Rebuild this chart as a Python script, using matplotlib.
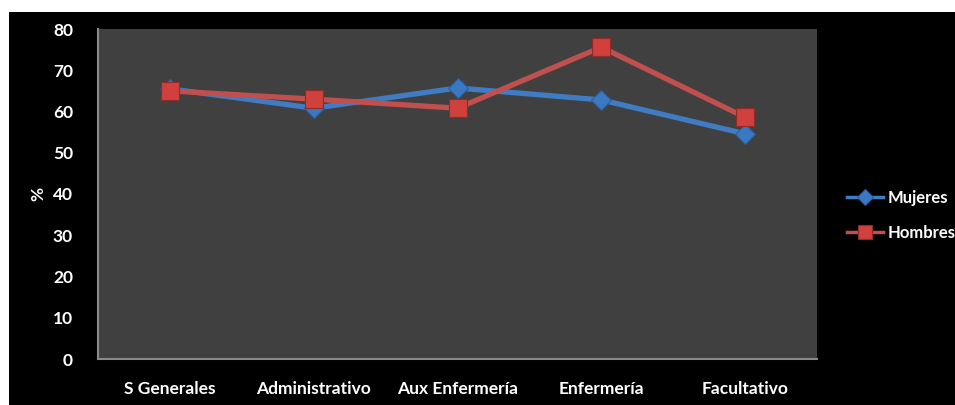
import matplotlib
matplotlib.use("Agg")
import matplotlib.pyplot as plt
from matplotlib.patches import Rectangle
from matplotlib.font_manager import FontProperties

categories = ["S Generales", "Administrativo", "Aux Enfermería", "Enfermería", "Facultativo"]
mujeres = [65.5, 60.8, 65.7, 62.8, 54.6]
hombres = [65.0, 63.0, 60.8, 75.6, 58.6]
y_ticks = [0, 10, 20, 30, 40, 50, 60, 70, 80]

W, H = 955, 405
fig = plt.figure(figsize=(W / 100, H / 100), dpi=100, facecolor="white")
# black chart frame below the thin white top strip
fig.patches.append(Rectangle((9 / W, 0), 1 - 9 / W, 1 - 12 / H,
                             transform=fig.transFigure, facecolor="black",
                             edgecolor="none", zorder=-10))

ax = fig.add_axes([98 / W, 1 - 359 / H, (817 - 98) / W, (359 - 29) / H])
ax.set_zorder(1)
ax.set_facecolor("#404040")

blue = "#3f7cc4"
red = "#c0504d"
x = list(range(len(categories)))
ax.plot(x, mujeres, color=blue, lw=3.8, marker="D", ms=10.5,
        markerfacecolor="#3a78c2", markeredgecolor="#2d5f9c", mew=0.8,
        label="Mujeres", zorder=3)
ax.plot(x, hombres, color=red, lw=3.8, marker="s", ms=13,
        markerfacecolor="#d0403c", markeredgecolor="#8f2b29", mew=0.8,
        label="Hombres", zorder=4)

ax.set_xlim(-0.5, len(categories) - 0.5)
ax.set_ylim(0, 80)
ax.set_yticks(y_ticks)
ax.set_xticks(x)
ax.set_xticklabels(categories)

FS = 12.5
font = dict(family=["Lato", "DejaVu Sans"], weight="bold", size=FS)
for lab in ax.get_xticklabels() + ax.get_yticklabels():
    lab.set_fontproperties(FontProperties(**font))
    lab.set_color("white")
ax.tick_params(axis="both", length=0)
ax.tick_params(axis="y", pad=18)
ax.tick_params(axis="x", pad=16)

for side in ("top", "right"):
    ax.spines[side].set_visible(False)
for side in ("left", "bottom"):
    ax.spines[side].set_color("#8a8a8a")
    ax.spines[side].set_linewidth(1.5)

ax.set_ylabel("%", color="white", fontfamily=["Lato", "DejaVu Sans"],
              fontweight="bold", fontsize=FS)
ax.yaxis.set_label_coords((46 - 98) / 719, 0.5)

leg = fig.legend(loc="upper left", bbox_to_anchor=(840 / W, 1 - 183 / H),
                 frameon=False, handlelength=2.2, handletextpad=0.25,
                 labelspacing=1.15, borderaxespad=0, markerscale=0.8,
                 prop=dict(family=["Lato", "DejaVu Sans"], weight="bold", size=12))
for t in leg.get_texts():
    t.set_color("white")
for h in leg.get_lines():
    h.set_linewidth(2.5)

fig.savefig("out.png", dpi=100, facecolor=fig.get_facecolor())
